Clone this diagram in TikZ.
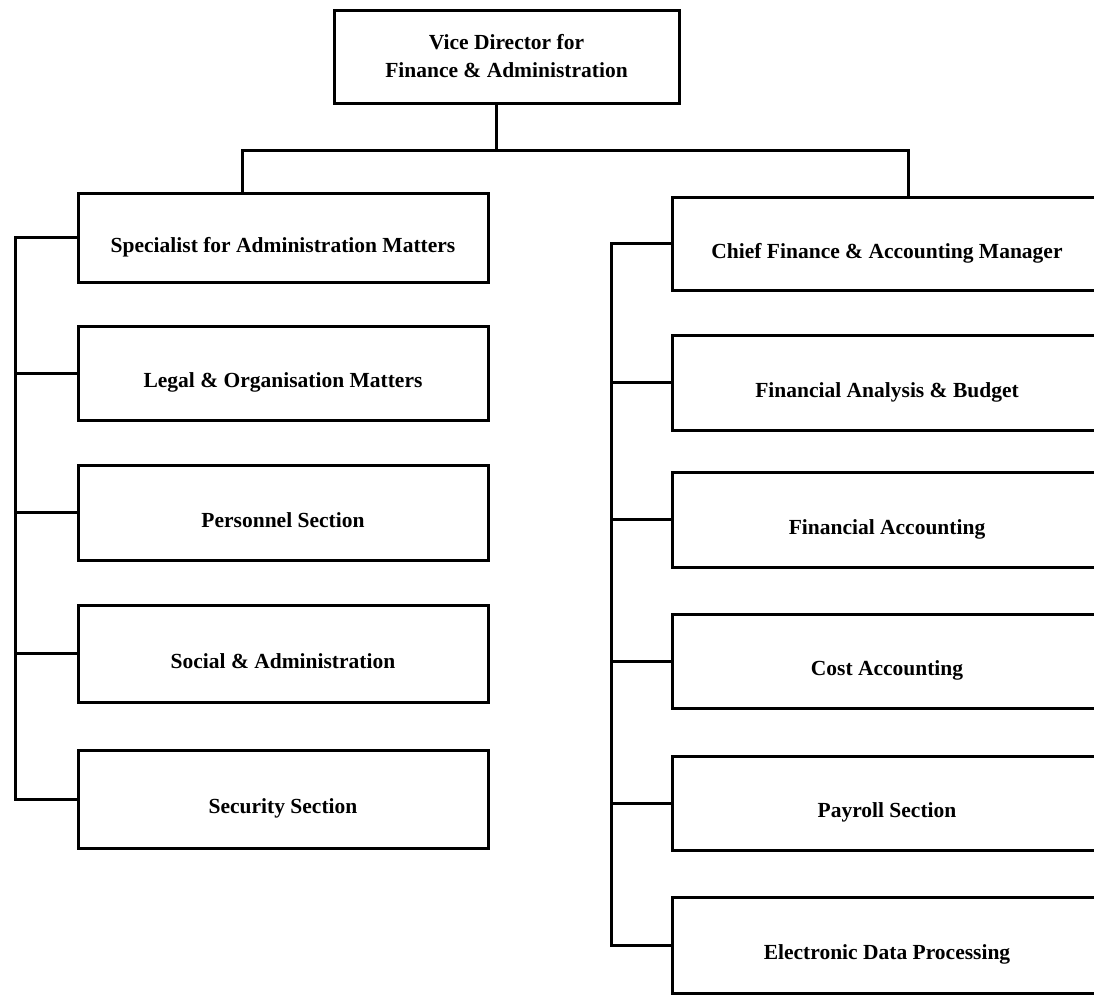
\documentclass[tikz,border=0pt]{standalone}
\usepackage{fontspec}
\setmainfont{Liberation Serif}
\begin{document}
\begin{tikzpicture}[x=1pt,y=-1pt,
  box/.style={draw, line width=3pt, font=\bfseries\fontsize{21.5}{28}\selectfont, align=center, inner sep=0pt},
  lbox/.style={box, minimum width=410pt, text height=34pt, text depth=5pt},
  rbox/.style={box, minimum width=430pt, text height=34pt, text depth=5pt},
  conn/.style={line width=3pt}]
\useasboundingbox (0,0) rectangle (1094,996);
\clip (0,0) rectangle (1094,996);

\node[box, minimum width=345pt, minimum height=93pt] (top) at (506.5,56.5) {Vice Director for\\Finance \& Administration};

\node[lbox, minimum height=89pt] (l1) at (283,237.5) {Specialist for Administration Matters};
\node[lbox, minimum height=94pt] (l2) at (283,373) {Legal \& Organisation Matters};
\node[lbox, minimum height=95pt] (l3) at (283,512.5) {Personnel Section};
\node[lbox, minimum height=97pt] (l4) at (283,653.5) {Social \& Administration};
\node[lbox, minimum height=98pt] (l5) at (283,799) {Security Section};

\node[rbox, minimum height=93pt] (r1) at (887,243.5) {Chief Finance \& Accounting Manager};
\node[rbox, minimum height=95pt] (r2) at (887,382.5) {Financial Analysis \& Budget};
\node[rbox, minimum height=95pt] (r3) at (887,519.5) {Financial Accounting};
\node[rbox, minimum height=94pt] (r4) at (887,661) {Cost Accounting};
\node[rbox, minimum height=94pt] (r5) at (887,803) {Payroll Section};
\node[rbox, minimum height=96pt] (r6) at (887,945) {Electronic Data Processing};

\coordinate (bus) at (496,150);
\coordinate (lb) at (242,150);
\coordinate (rb) at (908,150);
\coordinate (ls) at (15,0);
\coordinate (rs) at (611,0);

\draw[conn] (top.south -| bus) -- (bus);
\draw[conn] (l1.north -| lb) -- (lb) -- (rb) -- (r1.north -| rb);

\draw[conn] (l1.west) -| (ls |- l5.west) -- (l5.west);
\foreach \i in {2,3,4} \draw[conn] (l\i.west) -- (ls |- l\i.west);

\draw[conn] (r1.west) -| (rs |- r6.west) -- (r6.west);
\foreach \i in {2,3,4,5} \draw[conn] (r\i.west) -- (rs |- r\i.west);
\end{tikzpicture}
\end{document}
